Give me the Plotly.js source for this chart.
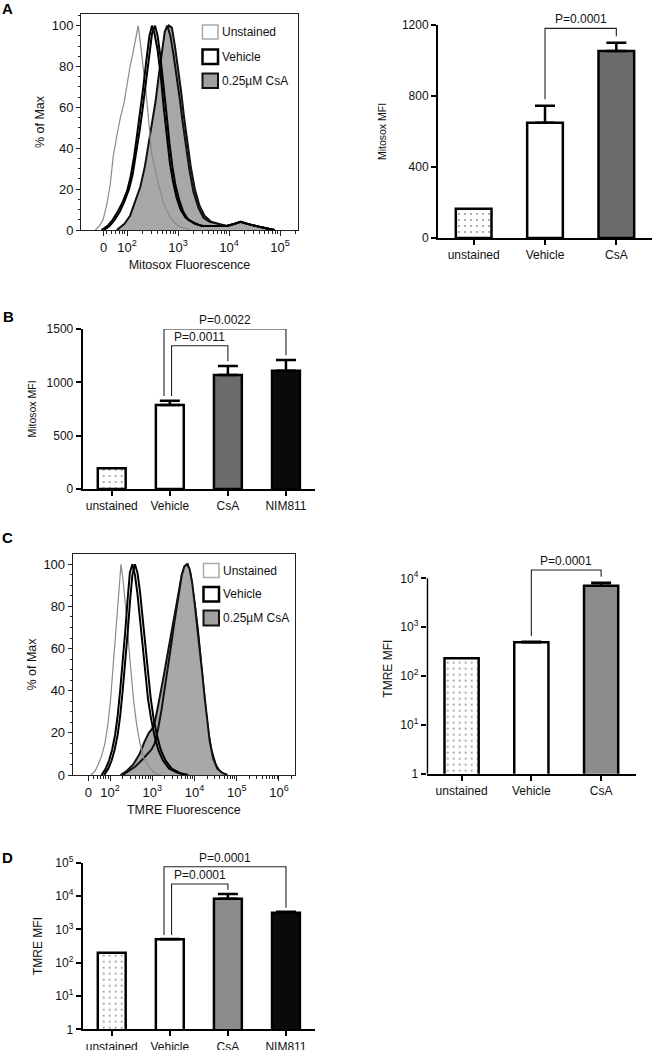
<!DOCTYPE html>
<html><head><meta charset="utf-8">
<script src="https://cdn.plot.ly/plotly-3.0.1.min.js"></script>
<style>html,body{margin:0;padding:0;background:#fff}#chart{width:652px;height:1050px}</style>
</head><body><div id="chart"></div>
<script>
// ---------- DATA ----------
// Histograms: x = log10(fluorescence) on the FlowJo display scale, y = % of Max
const histA_unstained_x = [1.38,1.46,1.53,1.60,1.67,1.73,1.80,1.87,1.94,2.00,2.06,2.12,2.17,2.22,2.27,2.32,2.37,2.42,2.48,2.55,2.62,2.72,2.85,3.00,3.25];
const histA_unstained_y = [0,2,5,12,22,36,46,55,62,72,80,87,93,100,90,80,68,55,38,30,22,13,6,2,0];
const histA_vehicle1_x = [1.50,1.62,1.72,1.82,1.92,2.00,2.07,2.14,2.20,2.26,2.32,2.38,2.44,2.49,2.54,2.60,2.66,2.72,2.78,2.84,2.90,2.97,3.05,3.15,3.28,3.45,3.70,3.95,4.10,4.22,4.35,4.50,4.70,4.85];
const histA_vehicle1_y = [0,2,5,9,14,19,26,36,47,58,70,83,95,100,96,88,76,60,45,33,24,16,10,6,4,2,2,2,3,4,3,2,1,0];
const histA_vehicle2_x = [1.55,1.66,1.76,1.86,1.95,2.04,2.11,2.18,2.25,2.31,2.37,2.43,2.49,2.55,2.60,2.65,2.71,2.77,2.83,2.89,2.95,3.02,3.10,3.20,3.33,3.50,3.75,3.98,4.12,4.24,4.38,4.52,4.72,4.88];
const histA_vehicle2_y = [0,2,5,9,14,20,27,37,49,60,72,85,96,100,95,86,73,58,43,31,22,15,9,5,3,2,2,2,3,4,3,2,1,0];
const histA_csa1_x = [1.85,2.00,2.10,2.20,2.29,2.38,2.45,2.52,2.58,2.64,2.70,2.76,2.82,2.88,2.94,3.00,3.06,3.12,3.18,3.25,3.33,3.42,3.52,3.65,3.80,3.95,4.10,4.22,4.35,4.50,4.70,4.90];
const histA_csa1_y = [0,3,7,13,20,30,40,50,60,72,84,96,100,99,90,80,68,55,44,31,20,12,7,4,3,2,3,4,3,2,1,0];
const histA_csa2_x = [1.80,1.95,2.06,2.16,2.26,2.35,2.42,2.49,2.56,2.62,2.68,2.74,2.79,2.85,2.91,2.97,3.03,3.09,3.15,3.22,3.30,3.40,3.50,3.62,3.78,3.95,4.10,4.22,4.35,4.50,4.70,4.90];
const histA_csa2_y = [0,3,7,14,21,31,41,52,63,75,87,97,100,95,86,76,65,53,42,30,19,11,6,4,3,2,3,4,3,2,1,0];

const histC_unstained_x = [1.55,1.65,1.72,1.80,1.88,1.95,2.01,2.06,2.11,2.16,2.21,2.26,2.30,2.35,2.40,2.45,2.50,2.56,2.63,2.70,2.80,2.92,3.05,3.20];
const histC_unstained_y = [0,2,5,9,15,24,35,48,60,72,85,100,94,85,74,60,48,35,24,16,8,4,1,0];
const histC_vehicle1_x = [1.80,1.90,1.98,2.05,2.12,2.18,2.24,2.30,2.36,2.42,2.47,2.53,2.59,2.65,2.71,2.77,2.83,2.90,2.97,3.05,3.14,3.25,3.40,3.60,3.80];
const histC_vehicle1_y = [0,3,7,12,19,28,40,53,68,84,96,100,95,86,74,60,47,36,27,19,12,7,3,1,0];
const histC_vehicle2_x = [1.86,1.96,2.04,2.11,2.18,2.24,2.30,2.36,2.42,2.48,2.53,2.59,2.65,2.71,2.77,2.83,2.89,2.96,3.03,3.11,3.20,3.31,3.46,3.65,3.85];
const histC_vehicle2_y = [0,3,7,12,19,28,40,53,68,84,95,100,96,87,75,61,48,37,27,19,12,7,3,1,0];
const histC_csa1_x = [2.25,2.40,2.55,2.70,2.82,2.92,3.00,3.07,3.14,3.21,3.28,3.35,3.42,3.49,3.56,3.63,3.70,3.77,3.84,3.90,3.96,4.02,4.08,4.14,4.20,4.26,4.33,4.40,4.50,4.62,4.75];
const histC_csa1_y = [0,2,5,10,16,20,22,26,33,40,48,56,64,72,80,88,95,99,100,96,88,79,69,58,44,32,20,12,5,1,0];
const histC_csa2_x = [2.30,2.45,2.60,2.75,2.88,2.98,3.06,3.14,3.22,3.30,3.38,3.45,3.52,3.58,3.64,3.70,3.76,3.82,3.88,3.94,4.00,4.06,4.12,4.18,4.24,4.30,4.36,4.44,4.54,4.66,4.78];
const histC_csa2_y = [0,2,4,7,10,12,15,22,31,41,52,62,72,80,88,95,99,100,98,92,82,72,61,49,37,26,16,8,3,1,0];

// Histogram axis tick labels (FlowJo biexponential display)
const histA_tickLabels = ['0','10<sup>2</sup>','10<sup>3</sup>','10<sup>4</sup>','10<sup>5</sup>'];
const histA_tickPos = [1.54, 2, 3, 4, 5];
const histC_tickLabels = ['0','10<sup>2</sup>','10<sup>3</sup>','10<sup>4</sup>','10<sup>5</sup>','10<sup>6</sup>'];
const histC_tickPos = [1.486, 2, 3, 4, 5, 6];
const histYTicks = [0,20,40,60,80,100];
const legendLabels = ['Unstained','Vehicle','0.25\u00B5M CsA'];

// Bar charts
const groups3 = ['unstained','Vehicle','CsA'];
const groups4 = ['unstained','Vehicle','CsA','NIM811'];
const mfiA = [165, 650, 1054];
const errA = [0, 95, 46];
const mfiB = [194, 787, 1069, 1109];
const errB = [0, 41, 84, 100];
const tmreC = [230, 490, 7060];
const errC = [0, 12, 1070];
const tmreD = [200, 500, 8300, 3170];
const errD = [0, 15, 3200, 230];

const pvalA = [{a:1, b:2, label:'P=0.0001', level:1181}];
const pvalB = [{a:1, b:2, label:'P=0.0011', level:1343}, {a:1, b:3, label:'P=0.0022', level:1500}];
const pvalC = [{a:1, b:2, label:'P=0.0001', level:14800}];
const pvalD = [{a:1, b:2, label:'P=0.0001', level:22900}, {a:1, b:3, label:'P=0.0001', level:75900}];

const linTicksA = [0,400,800,1200];
const linTicksB = [0,500,1000,1500];
const logTicksC = [1,10,100,1000,10000];
const logTicksD = [1,10,100,1000,10000,100000];
const logTickText = ['1','10<sup>1</sup>','10<sup>2</sup>','10<sup>3</sup>','10<sup>4</sup>','10<sup>5</sup>'];

// ---------- STYLE / LAYOUT ----------
const W = 652, H = 1050;
const FONT = 'Liberation Sans, Arial, Helvetica, sans-serif';
const px = x => x / W, py = y => 1 - y / H;

const traces = [];
const annotations = [];
const shapes = [];

function minorLogTicks(lo, hi, majors) {
  const out = [];
  for (let d = 1; d <= 6; d++) for (let k = 2; k <= 9; k++) {
    const v = Math.log10(k * Math.pow(10, d));
    if (v > lo && v < hi && !majors.some(m => Math.abs(m - v) < 1e-6)) out.push(v);
  }
  return out;
}

function addHist(ax, ay, sets) {
  sets.csa.forEach(([x, y]) => traces.push({x, y, xaxis: ax, yaxis: ay, type: 'scatter', mode: 'lines',
    fill: 'tozeroy', fillcolor: '#a8a8a8', line: {color: '#111', width: 2}, hoverinfo: 'skip', showlegend: false}));
  sets.unst.forEach(([x, y]) => traces.push({x, y, xaxis: ax, yaxis: ay, type: 'scatter', mode: 'lines',
    line: {color: '#8a8a8a', width: 1.2}, hoverinfo: 'skip', showlegend: false}));
  sets.veh.forEach(([x, y]) => traces.push({x, y, xaxis: ax, yaxis: ay, type: 'scatter', mode: 'lines',
    line: {color: '#000', width: 2}, hoverinfo: 'skip', showlegend: false}));
}

addHist('x', 'y', {
  csa: [[histA_csa1_x, histA_csa1_y], [histA_csa2_x, histA_csa2_y]],
  unst: [[histA_unstained_x, histA_unstained_y]],
  veh: [[histA_vehicle1_x, histA_vehicle1_y], [histA_vehicle2_x, histA_vehicle2_y]]
});
addHist('x4', 'y4', {
  csa: [[histC_csa1_x, histC_csa1_y], [histC_csa2_x, histC_csa2_y]],
  unst: [[histC_unstained_x, histC_unstained_y]],
  veh: [[histC_vehicle1_x, histC_vehicle1_y], [histC_vehicle2_x, histC_vehicle2_y]]
});

function addBars(ax, ay, groups, vals, errs, colors, isLog, pvals, width, rangeTop) {
  groups.forEach((g, i) => {
    const marker = {color: colors[i], line: {color: '#000', width: 2.5}};
    if (g === 'unstained') marker.pattern = {shape: '.', fgcolor: '#8a8a8a', bgcolor: '#fff', size: 6, solidity: 0.07, fillmode: 'replace'};
    traces.push({type: 'bar', x: [i], y: [vals[i]], xaxis: ax, yaxis: ay, width: width, marker,
      error_y: {type: 'data', symmetric: false, array: [errs[i]], arrayminus: [0], color: '#000', thickness: 2.5, width: 10, visible: errs[i] > 0},
      hoverinfo: 'skip', showlegend: false, cliponaxis: false, name: g});
  });
  const tops = vals.map((v, i) => v + errs[i]);
  const gapUp = v => isLog ? v * Math.pow(10, 0.12) : v + 0.03 * rangeTop;
  const byLeft = {};
  pvals.forEach(p => { (byLeft[p.a] = byLeft[p.a] || []).push(p); });
  pvals.forEach(p => {
    const same = byLeft[p.a];
    let off = 0;
    if (same.length > 1) {
      const maxL = Math.max(...same.map(s => s.level));
      off = p.level === maxL ? -0.1 : 0.03;
    }
    const xa = p.a + off, xb = p.b;
    traces.push({type: 'scatter', mode: 'lines', xaxis: ax, yaxis: ay,
      x: [xa, xa, xb, xb], y: [gapUp(tops[p.a]), p.level, p.level, gapUp(tops[p.b])],
      line: {color: '#222', width: 1.1}, hoverinfo: 'skip', showlegend: false, cliponaxis: false});
    annotations.push({xref: ax, yref: ay, x: (xa + xb) / 2, y: isLog ? Math.log10(p.level) : p.level,
      text: p.label, showarrow: false, yanchor: 'bottom', yshift: 0, font: {family: FONT, size: 12, color: '#111'}});
  });
}

addBars('x2', 'y2', groups3, mfiA, errA, ['#fff', '#fff', '#6b6b6b'], false, pvalA, 0.5, 1200);
addBars('x3', 'y3', groups4, mfiB, errB, ['#fff', '#fff', '#6b6b6b', '#0a0a0a'], false, pvalB, 0.48, 1500);
addBars('x5', 'y5', groups3, tmreC, errC, ['#fff', '#fff', '#8c8c8c'], true, pvalC, 0.49, 10000);
addBars('x6', 'y6', groups4, tmreD, errD, ['#fff', '#fff', '#8c8c8c', '#0a0a0a'], true, pvalD, 0.48, 100000);

// axes builders
const tf = s => ({family: FONT, size: s, color: '#111'});
function histX(domain, range, tickvals, ticktext, anchor, title) {
  return {domain, range, anchor, tickmode: 'array', tickvals, ticktext, tickfont: tf(13),
    showline: true, mirror: true, linecolor: '#222', linewidth: 1, ticks: 'outside', ticklen: 5, tickwidth: 1, tickcolor: '#222',
    showgrid: false, zeroline: false, fixedrange: true,
    minor: {tickmode: 'array', tickvals: minorLogTicks(tickvals[0] + 0.05, range[1], tickvals), ticks: 'outside', ticklen: 3, tickwidth: 1, tickcolor: '#222', showgrid: false},
    title: {text: title, font: tf(12.5), standoff: 6}};
}
function histY(domain, range, anchor) {
  return {domain, range, anchor, tickmode: 'array', tickvals: histYTicks, tickfont: tf(13),
    showline: true, mirror: true, linecolor: '#222', linewidth: 1, ticks: 'outside', ticklen: 4, tickwidth: 1, tickcolor: '#222',
    showgrid: false, zeroline: false, fixedrange: true,
    minor: {dtick: 5, ticks: 'outside', ticklen: 2, tickwidth: 1, tickcolor: '#222', showgrid: false},
    title: {text: '% of Max', font: tf(12.5), standoff: 4}};
}
function barX(domain, n, groups, anchor) {
  return {domain, range: [-0.5, n - 0.5], anchor, tickmode: 'array', tickvals: groups.map((g, i) => i), ticktext: groups,
    tickfont: tf(12), showline: true, linecolor: '#000', linewidth: 2, ticks: 'outside', ticklen: 5, tickwidth: 2, tickcolor: '#000',
    showgrid: false, zeroline: false, fixedrange: true};
}
function barY(domain, range, tickvals, ticktext, isLog, anchor, title, tsize, standoff) {
  const o = {domain, range, anchor, tickmode: 'array', tickvals, tickfont: tf(12),
    showline: true, linecolor: '#000', linewidth: 2, ticks: 'outside', ticklen: 5, tickwidth: 2, tickcolor: '#000',
    showgrid: false, zeroline: false, fixedrange: true, title: {text: title, font: tf(tsize), standoff}};
  if (isLog) o.type = 'log';
  if (ticktext) o.ticktext = ticktext;
  return o;
}

// legends (FlowJo overlay key)
function legend(x0, x1, rows, textX) {
  const styles = [
    {fill: '#fff', line: {color: '#aaa', width: 1.5}},
    {fill: '#fff', line: {color: '#000', width: 2.5}},
    {fill: '#a0a0a0', line: {color: '#111', width: 2}}
  ];
  rows.forEach((r, i) => {
    shapes.push({type: 'rect', xref: 'paper', yref: 'paper', x0: px(x0), x1: px(x1), y0: py(r[1]), y1: py(r[0]),
      fillcolor: styles[i].fill, line: styles[i].line});
    annotations.push({xref: 'paper', yref: 'paper', x: px(textX), y: py((r[0] + r[1]) / 2), xanchor: 'left', yanchor: 'middle',
      text: legendLabels[i], showarrow: false, font: tf(12)});
  });
}
legend(202.5, 218, [[25, 39], [49.5, 64], [73.5, 88]], 220);
legend(203.5, 219, [[563.5, 577.5], [587, 601.5], [610.5, 625.5]], 221);

// panel letters
[['A', 7, 8], ['B', 8, 316], ['C', 7, 537], ['D', 7, 857]].forEach(([t, x, y]) =>
  annotations.push({xref: 'paper', yref: 'paper', x: px(x), y: py(y), xanchor: 'center', yanchor: 'middle',
    text: '<b>' + t + '</b>', showarrow: false, font: {family: FONT, size: 15, color: '#000'}}));

// Panel C bar: plot area extends above 10^4 so the P-value bracket is not clipped;
// the visible y-axis line stops at 10^4 as in the original
const yC = barY([py(773.7), py(578.3 - 0.3 * 48.85)], [0, 4.3], logTicksC, logTickText.slice(0, 5), true, 'x5', 'TMRE MFI', 12, 5);
yC.showline = false;
shapes.push({type: 'line', xref: 'x5', yref: 'y5', x0: -0.493, x1: -0.493, y0: logTicksC[0], y1: logTicksC[logTicksC.length - 1],
  line: {color: '#000', width: 2}, layer: 'above'});

const layout = {
  width: W, height: H, margin: {l: 0, r: 0, t: 0, b: 0}, paper_bgcolor: '#fff', plot_bgcolor: 'rgba(0,0,0,0)',
  showlegend: false, font: {family: FONT, color: '#111'}, barmode: 'overlay',
  xaxis: histX([px(81), px(298)], [1.098, 5.353], histA_tickPos, histA_tickLabels, 'y', 'Mitosox Fluorescence'),
  yaxis: histY([py(230), py(14)], [0, 105.7], 'x'),
  xaxis2: barX([px(438), px(652)], 3, groups3, 'y2'),
  yaxis2: barY([py(238), py(25)], [0, 1200], linTicksA, null, false, 'x2', 'Mitosox MFI', 10.5, 13),
  xaxis3: barX([px(82.7), px(315)], 4, groups4, 'y3'),
  yaxis3: barY([py(489), py(329)], [0, 1500], linTicksB, null, false, 'x3', 'Mitosox MFI', 10.5, 8),
  xaxis4: histX([px(72.7), px(295)], [1.117, 6.379], histC_tickPos, histC_tickLabels, 'y4', 'TMRE Fluorescence'),
  yaxis4: histY([py(775), py(554)], [0, 104.9], 'x4'),
  xaxis5: barX([px(426.7), px(636)], 3, groups3, 'y5'),
  yaxis5: yC,
  xaxis6: barX([px(82.7), px(315)], 4, groups4, 'y6'),
  yaxis6: barY([py(1029.3), py(862.7)], [0, 5], logTicksD, logTickText, true, 'x6', 'TMRE MFI', 12, 10),
  annotations, shapes
};

Plotly.newPlot('chart', traces, layout, {staticPlot: true, displayModeBar: false});
</script></body></html>
